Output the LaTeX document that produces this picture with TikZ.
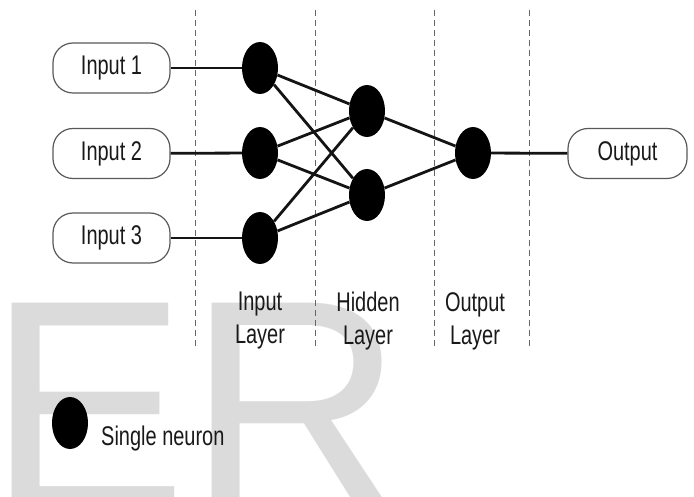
\documentclass[tikz,border=0pt]{standalone}
\usepackage{fontspec}
\setmainfont{Liberation Sans}
\newfontfamily\narrowfont{Liberation Sans}[FakeStretch=0.74]
\newcommand\labelfont{\narrowfont\fontsize{27}{33}\selectfont}
\usetikzlibrary{shapes.geometric}

\begin{document}
\begin{tikzpicture}[x=1pt,y=-1pt,
  neuron/.style={ellipse, fill=black, draw=none, minimum width=36pt, minimum height=52pt, inner sep=0pt},
  iobox/.style={draw=black!65, line width=1.2pt, rounded corners=20pt, minimum width=117pt, minimum height=50pt, inner sep=0pt, font=\labelfont, text=black!90},
  link/.style={line width=2.8pt, black!92},
  divider/.style={dash pattern=on 6pt off 4pt, line width=1pt, black!60},
  caption/.style={font=\labelfont, align=center, text=black!90, inner sep=0pt},
]
\useasboundingbox (0,0) rectangle (694,497);

% background letters
\node[anchor=base west, inner sep=0pt, text=black!14, font=\fontsize{300}{300}\selectfont] (mark) at (-13,509) {ER};

% layer dividers
\coordinate (d1t) at (195,10);  \coordinate (d1b) at (195,348);
\coordinate (d2t) at (315,10);  \coordinate (d2b) at (315,348);
\coordinate (d3t) at (434,10);  \coordinate (d3b) at (434,348);
\coordinate (d4t) at (529,10);  \coordinate (d4b) at (529,348);
\draw[divider] (d1t) -- (d1b);
\draw[divider] (d2t) -- (d2b);
\draw[divider] (d3t) -- (d3b);
\draw[divider] (d4t) -- (d4b);

% inputs and output
\node[iobox] (in1) at (111.5,68) {Input 1};
\node[iobox] (in2) at (111.5,153.5) {Input 2};
\node[iobox] (in3) at (111.5,238) {Input 3};
\node[iobox, minimum width=119pt] (out) at (627.5,153.5) {Output};

% neurons
\node[neuron] (i1) at (260,68) {};
\node[neuron] (i2) at (260,153) {};
\node[neuron] (i3) at (260,238) {};
\node[neuron] (h1) at (367,111) {};
\node[neuron] (h2) at (367,195) {};
\node[neuron] (o1) at (473,153) {};

% connections
\draw[link] (in1) -- (i1);
\draw[link] (in2) -- (i2);
\draw[link] (in3) -- (i3);
\foreach \a in {i1,i2,i3}
  \foreach \b in {h1,h2}
    \draw[link] (\a) -- (\b);
\draw[link] (h1) -- (o1);
\draw[link] (h2) -- (o1);
\draw[link] (o1) -- (out);

% layer captions
\node[caption] (lin) at (260,321) {Input\\Layer};
\node[caption] (lhid) at (368,321) {Hidden\\Layer};
\node[caption] (lout) at (475,321) {Output\\Layer};

% legend
\node[neuron] (key) at (70,423) {};
\node[caption, anchor=base west] (keytext) at (101,445.7) {Single neuron};
\end{tikzpicture}
\end{document}
